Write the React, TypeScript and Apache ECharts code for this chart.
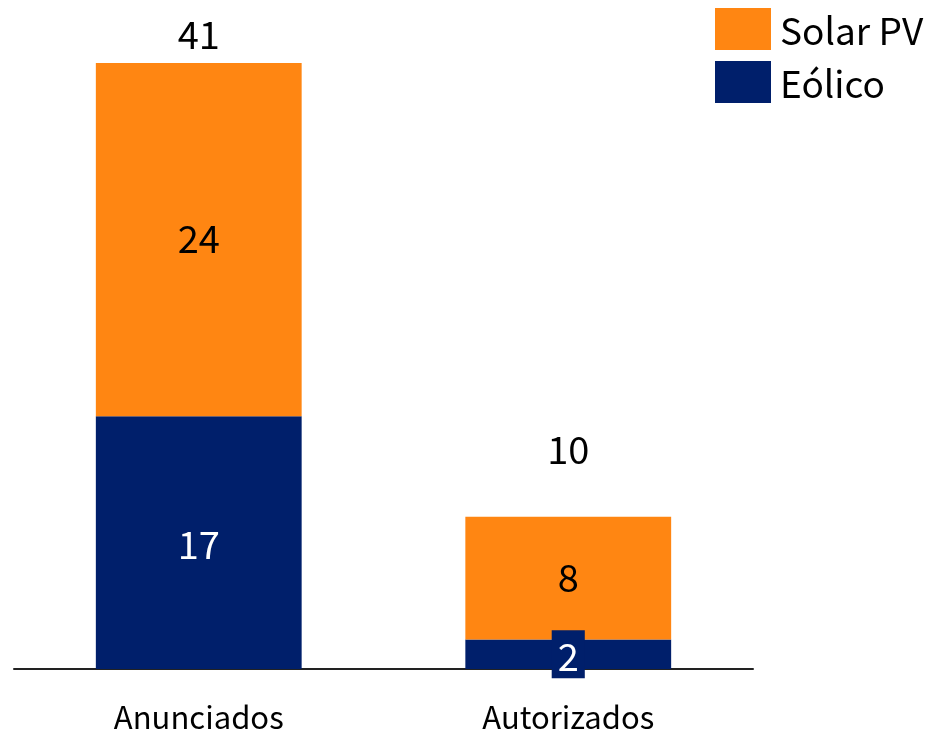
import React, { useEffect, useRef } from "react";
import * as echarts from "echarts";

const categories = ["Anunciados", "Autorizados"];
const eolico = [17.1, 2.0];
const solar = [23.9, 8.3];
const totals = [41, 10.3];
const totalLabelOffsets = [-31, -69];

const FONT = "'Noto Sans CJK JP', 'Noto Sans', sans-serif";
const ORANGE = "#FF8612";
const NAVY = "#001F6B";

export default function App() {
  const ref = useRef<HTMLDivElement>(null);
  useEffect(() => {
    if (!ref.current) return;
    const chart = echarts.init(ref.current, null, { renderer: "svg" });
    chart.setOption({
      animation: false,
      textStyle: { fontFamily: FONT },
      grid: { left: 14, right: 178, top: 4, bottom: 67, containLabel: false },
      legend: {
        data: ["Solar PV", "Eólico"],
        orient: "vertical",
        left: 715,
        top: 8,
        padding: 0,
        itemWidth: 56,
        itemHeight: 42,
        itemGap: 11,
        icon: "rect",
        textStyle: { fontFamily: FONT, fontSize: 37, color: "#000", padding: [0, 0, 0, 4] },
      },
      xAxis: {
        type: "category",
        data: categories,
        axisLine: { lineStyle: { color: "#222", width: 2 } },
        axisTick: { show: false },
        axisLabel: {
          fontFamily: FONT,
          fontSize: 31,
          lineHeight: 26,
          color: "#000",
          margin: 33,
        },
      },
      yAxis: {
        type: "value",
        min: 0,
        max: 45,
        show: false,
        splitLine: { show: false },
      },
      series: [
        {
          name: "Eólico",
          type: "bar",
          stack: "t",
          barWidth: "55.7%",
          itemStyle: { color: NAVY },
          data: eolico.map((v, i) =>
            i === 1
              ? {
                  value: v,
                  label: {
                    backgroundColor: NAVY,
                    padding: [5, 6, 5, 6],
                  },
                }
              : v
          ),
          label: {
            show: true,
            position: "inside",
            color: "#fff",
            fontFamily: FONT,
            fontSize: 38,
            formatter: (p: any) => String(Math.round(p.value)),
          },
        },
        {
          name: "Solar PV",
          type: "bar",
          stack: "t",
          itemStyle: { color: ORANGE },
          data: solar,
          label: {
            show: true,
            position: "inside",
            offset: [0, -3],
            color: "#000",
            fontFamily: FONT,
            fontSize: 38,
            formatter: (p: any) => String(Math.round(p.value)),
          },
        },
        {
          name: "Total",
          type: "scatter",
          symbolSize: 0,
          silent: true,
          itemStyle: { opacity: 1 },
          data: totals.map((v, i) => ({
            value: v,
            label: { offset: [0, totalLabelOffsets[i]] },
          })),
          label: {
            show: true,
            position: "inside",
            color: "#000",
            opacity: 1,
            fontFamily: FONT,
            fontSize: 38,
            formatter: (p: any) => String(Math.round(p.value)),
          },
        },
      ],
    });
    return () => chart.dispose();
  }, []);
  return (
    <div
      ref={ref}
      style={{ position: "fixed", left: 0, top: 0, width: 931, height: 736 }}
    />
  );
}
